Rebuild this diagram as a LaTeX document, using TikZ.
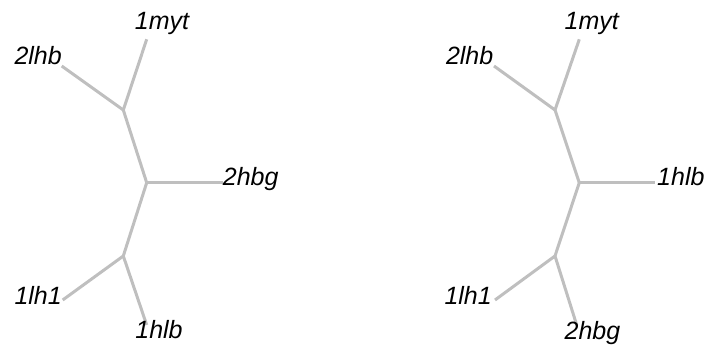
\documentclass[tikz,border=0pt]{standalone}
\usepackage{fontspec}
\setmainfont{Liberation Sans}
\begin{document}
\begin{tikzpicture}[x=1pt,y=-1pt,
  branch/.style={draw=edgegray, line width=3pt},
  taxon/.style={inner sep=0pt, font=\fontsize{25}{30}\selectfont\itshape},
  junction/.style={inner sep=0pt, minimum size=0pt}]
\definecolor{edgegray}{RGB}{191,191,191}
\useasboundingbox (0,0) rectangle (707,347);

% ---- first tree ----
\coordinate (La) at (123.3,110);
\coordinate (Lc) at (146.7,182.7);
\coordinate (Lb) at (123.3,256);
\coordinate (L1myt) at (146.7,39.3);
\coordinate (L2lhb) at (61.7,66);
\coordinate (L2hbg) at (222.7,182.7);
\coordinate (L1lh1) at (62.7,300);
\coordinate (L1hlb) at (146.7,325);

\draw[branch] (L1myt) -- (La);
\draw[branch] (L2lhb) -- (La);
\draw[branch] (La) -- (Lc);
\draw[branch] (Lc) -- (L2hbg);
\draw[branch] (Lc) -- (Lb);
\draw[branch] (Lb) -- (L1lh1);
\draw[branch] (Lb) -- (L1hlb);

\node[taxon, anchor=base] (tL1myt) at (162,30) {1myt};
\node[taxon, anchor=base east] (tL2lhb) at (62,65) {2lhb};
\node[taxon, anchor=base west] (tL2hbg) at (222.7,186) {2hbg};
\node[taxon, anchor=base east] (tL1lh1) at (62,305) {1lh1};
\node[taxon, anchor=base] (tL1hlb) at (159,339) {1hlb};

% ---- second tree ----
\coordinate (Ra) at (555,110);
\coordinate (Rc) at (579.3,182.7);
\coordinate (Rb) at (555,256);
\coordinate (R1myt) at (579.3,39.3);
\coordinate (R2lhb) at (494,66);
\coordinate (R1hlb) at (655,182.7);
\coordinate (R1lh1) at (495,300);
\coordinate (R2hbg) at (576.7,325);

\draw[branch] (R1myt) -- (Ra);
\draw[branch] (R2lhb) -- (Ra);
\draw[branch] (Ra) -- (Rc);
\draw[branch] (Rc) -- (R1hlb);
\draw[branch] (Rc) -- (Rb);
\draw[branch] (Rb) -- (R1lh1);
\draw[branch] (Rb) -- (R2hbg);

\node[taxon, anchor=base] (tR1myt) at (591.7,30) {1myt};
\node[taxon, anchor=base east] (tR2lhb) at (493.5,65) {2lhb};
\node[taxon, anchor=base west] (tR1hlb) at (657,186) {1hlb};
\node[taxon, anchor=base east] (tR1lh1) at (492,305) {1lh1};
\node[taxon, anchor=base] (tR2hbg) at (592.5,340) {2hbg};
\end{tikzpicture}
\end{document}
